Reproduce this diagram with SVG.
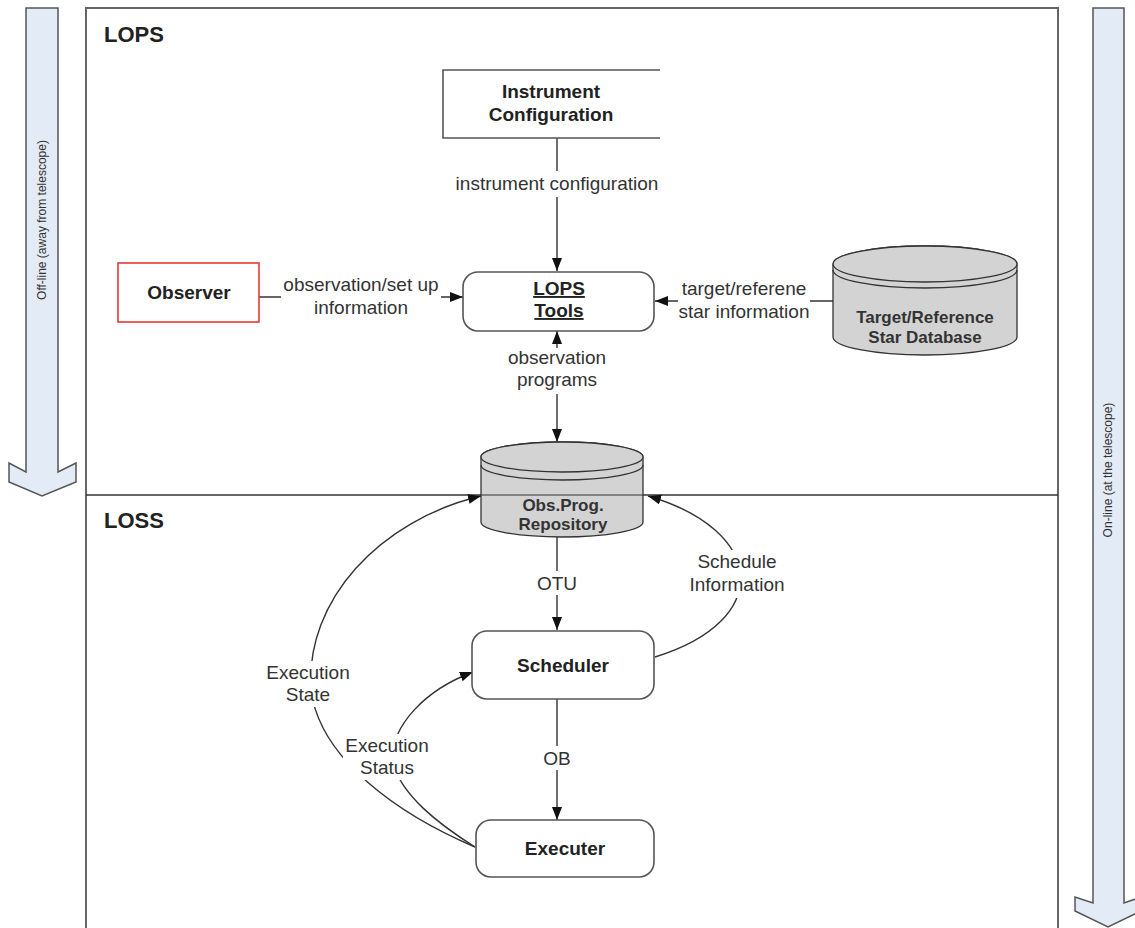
<svg xmlns="http://www.w3.org/2000/svg" width="1135" height="928" viewBox="0 0 1135 928">
  <style>
    .frame { fill: none; stroke: #666; stroke-width: 2; }
    .band { fill: #e3ebf7; stroke: #555; stroke-width: 1.5; }
    .box { fill: #fff; stroke: #555; stroke-width: 1.6; }
    .cyl { fill: #d3d3d3; stroke: #333; stroke-width: 1.3; }
    .conn { fill: none; stroke: #333; stroke-width: 1.4; }
    .title { font-family: "Liberation Sans", Arial, sans-serif; font-weight: bold; font-size: 22px; fill: #222; }
    .node { font-family: "Liberation Sans", Arial, sans-serif; font-weight: bold; font-size: 19px; fill: #222; text-anchor: middle; }
    .dbt { font-family: "Liberation Sans", Arial, sans-serif; font-weight: bold; font-size: 17px; fill: #333; text-anchor: middle; }
    .lbl { font-family: "Liberation Sans", Arial, sans-serif; font-size: 19px; fill: #333; text-anchor: middle; }
    .side { font-family: "Liberation Sans", Arial, sans-serif; font-size: 12px; fill: #333; text-anchor: middle; }
    .bg { fill: #fff; }
  </style>
  <defs>
    <marker id="arrow" markerUnits="userSpaceOnUse" markerWidth="14" markerHeight="11" refX="13" refY="5" orient="auto">
      <path d="M0,0 L13,5 L0,10 z" fill="#111"/>
    </marker>
    <marker id="arrowStart" markerUnits="userSpaceOnUse" markerWidth="14" markerHeight="11" refX="0" refY="5" orient="auto">
      <path d="M13,0 L0,5 L13,10 z" fill="#111"/>
    </marker>
  </defs>

  <rect width="1135" height="928" fill="#fff"/>

  <!-- off-line / on-line side bands -->
  <g id="offline-band">
    <path class="band" d="M26,8 H58 V472 L76,463 V482 L42,496 L9,482 V463 L26,472 Z"/>
    <text class="side" transform="translate(46,220) rotate(-90)">Off-line (away from telescope)</text>
  </g>
  <g id="online-band">
    <path class="band" d="M1093,8 H1124 V903 L1141,897 V911 L1108,927 L1075,911 V897 L1093,903 Z"/>
    <text class="side" transform="translate(1112,470) rotate(-90)">On-line (at the telescope)</text>
  </g>

  <!-- LOPS / LOSS frame -->
  <g id="frame">
    <path class="frame" d="M86,928 V8 H1058 V928"/>
    <line x1="86" y1="495" x2="1058" y2="495" stroke="#333" stroke-width="1.3"/>
    <text class="title" x="104" y="42">LOPS</text>
    <text class="title" x="104" y="528">LOSS</text>
  </g>

  <!-- connectors -->
  <g id="connectors">
    <line class="conn" x1="557" y1="138" x2="557" y2="271" marker-end="url(#arrow)"/>
    <line class="conn" x1="259" y1="297" x2="463" y2="297" marker-end="url(#arrow)"/>
    <line class="conn" x1="833" y1="301" x2="655" y2="301" marker-end="url(#arrow)"/>
    <line class="conn" x1="557" y1="331" x2="557" y2="442" marker-start="url(#arrowStart)" marker-end="url(#arrow)"/>
    <line class="conn" x1="557" y1="537" x2="557" y2="630" marker-end="url(#arrow)"/>
    <line class="conn" x1="557" y1="699" x2="557" y2="820" marker-end="url(#arrow)"/>
    <path class="conn" d="M655,657 C775,620 765,530 648,496" marker-end="url(#arrow)"/>
    <path class="conn" d="M475,847 C400,815 320,760 311,690 C305,600 380,520 481,496" marker-end="url(#arrow)"/>
    <path class="conn" d="M475,847 C440,825 400,795 392,760 C392,725 425,690 473,672" marker-end="url(#arrow)"/>

    <!-- labels on connectors -->
    <rect class="bg" x="454" y="171" width="206" height="26"/>
    <text class="lbl" x="557" y="190">instrument configuration</text>
    <rect class="bg" x="281" y="273" width="160" height="46"/>
    <text class="lbl" x="361" y="291">observation/set up</text>
    <text class="lbl" x="361" y="314">information</text>
    <rect class="bg" x="678" y="275" width="132" height="46"/>
    <text class="lbl" x="744" y="295">target/referene</text>
    <text class="lbl" x="744" y="318">star information</text>
    <rect class="bg" x="505" y="348" width="104" height="46"/>
    <text class="lbl" x="557" y="364">observation</text>
    <text class="lbl" x="557" y="386">programs</text>
    <rect class="bg" x="535" y="571" width="44" height="24"/>
    <text class="lbl" x="557" y="590">OTU</text>
    <rect class="bg" x="540" y="746" width="34" height="24"/>
    <text class="lbl" x="557" y="765">OB</text>
    <rect class="bg" x="690" y="550" width="96" height="48"/>
    <text class="lbl" x="737" y="568">Schedule</text>
    <text class="lbl" x="737" y="591">Information</text>
    <rect class="bg" x="264" y="661" width="88" height="46"/>
    <text class="lbl" x="308" y="679">Execution</text>
    <text class="lbl" x="308" y="701">State</text>
    <rect class="bg" x="343" y="734" width="88" height="46"/>
    <text class="lbl" x="387" y="752">Execution</text>
    <text class="lbl" x="387" y="774">Status</text>
  </g>

  <!-- nodes -->
  <g id="instrument-configuration">
    <rect x="443" y="70" width="217" height="68" fill="#fff"/>
    <path d="M660,70 H443 V138 H660" fill="none" stroke="#555" stroke-width="1.6"/>
    <text class="node" x="551" y="98">Instrument</text>
    <text class="node" x="551" y="121">Configuration</text>
  </g>

  <g id="observer">
    <rect x="118" y="263" width="141" height="59" fill="#fff" stroke="#e53935" stroke-width="1.6"/>
    <text class="node" x="189" y="299">Observer</text>
  </g>

  <g id="lops-tools">
    <rect class="box" x="463" y="272" width="191" height="59" rx="15"/>
    <text class="node" x="559" y="295" text-decoration="underline">LOPS</text>
    <text class="node" x="559" y="317" text-decoration="underline">Tools</text>
  </g>

  <g id="star-database">
    <path class="cyl" d="M833,264 V337 A92,18 0 0 0 1017,337 V264 A92,18 0 0 0 833,264 Z"/>
    <path d="M833,270 A92,18 0 0 0 1017,270" fill="none" stroke="#333" stroke-width="1.3"/>
    <ellipse class="cyl" cx="925" cy="264" rx="92" ry="18"/>
    <text class="dbt" x="925" y="323">Target/Reference</text>
    <text class="dbt" x="925" y="343">Star Database</text>
  </g>

  <g id="obs-prog-repository">
    <path class="cyl" d="M481,457 V522 A81,15 0 0 0 643,522 V457 A81,15 0 0 0 481,457 Z"/>
    <path d="M481,465 A81,15 0 0 0 643,465" fill="none" stroke="#333" stroke-width="1.3"/>
    <ellipse class="cyl" cx="562" cy="457" rx="81" ry="15"/>
    <line x1="481" y1="495" x2="643" y2="495" stroke="#333" stroke-width="1"/>
    <text class="dbt" x="563" y="511">Obs.Prog.</text>
    <text class="dbt" x="563" y="530">Repository</text>
  </g>

  <g id="scheduler">
    <rect class="box" x="472" y="631" width="182" height="68" rx="15"/>
    <text class="node" x="563" y="672">Scheduler</text>
  </g>

  <g id="executer">
    <rect class="box" x="476" y="820" width="178" height="57" rx="15"/>
    <text class="node" x="565" y="855">Executer</text>
  </g>
</svg>
